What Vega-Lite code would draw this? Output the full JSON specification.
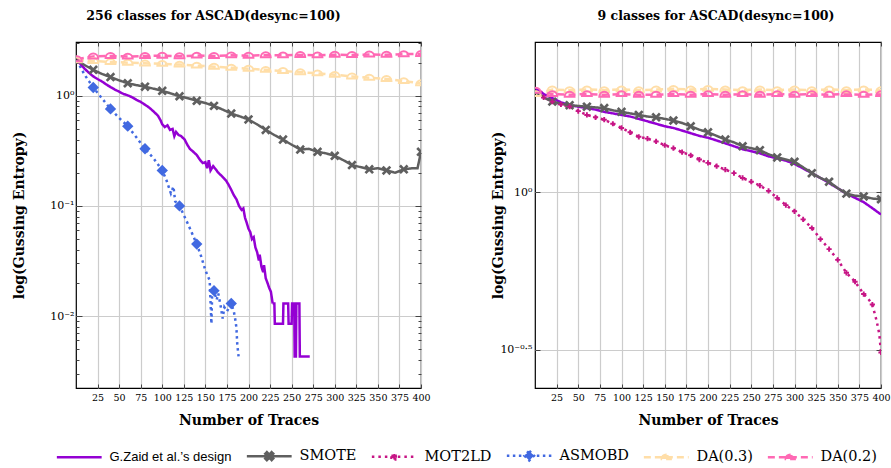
{
"$schema": "https://vega.github.io/schema/vega-lite/v6.json",
"background": "white",
"padding": {"left": 11, "top": 9, "right": 5, "bottom": 0},
"spacing": 59,
"config": {
 "view": {"stroke": "#000", "strokeWidth": 1.2},
 "axis": {"domain": false, "gridColor": "#cccccc", "gridWidth": 1.2, "tickColor": "#444", "labelFont": "DejaVu Serif", "labelFontSize": 9.5, "labelColor": "#000", "titleFont": "DejaVu Serif", "titleFontSize": 14, "titleFontWeight": "bold", "titleColor": "#000"},
 "title": {"font": "DejaVu Serif", "fontSize": 12.5, "fontWeight": "bold", "color": "#000", "offset": 19}
},
"datasets": {"d": [
{"p":"a","s":"D3","x":1,"y":2.1},{"p":"a","s":"D3","x":20,"y":2.07},{"p":"a","s":"D3","x":40,"y":2.03},{"p":"a","s":"D3","x":60,"y":2.0},{"p":"a","s":"D3","x":80,"y":1.97},{"p":"a","s":"D3","x":100,"y":1.95},{"p":"a","s":"D3","x":120,"y":1.92},{"p":"a","s":"D3","x":140,"y":1.88},{"p":"a","s":"D3","x":160,"y":1.84},{"p":"a","s":"D3","x":180,"y":1.8},{"p":"a","s":"D3","x":200,"y":1.76},{"p":"a","s":"D3","x":220,"y":1.72},{"p":"a","s":"D3","x":240,"y":1.68},{"p":"a","s":"D3","x":260,"y":1.64},{"p":"a","s":"D3","x":280,"y":1.6},{"p":"a","s":"D3","x":300,"y":1.55},{"p":"a","s":"D3","x":320,"y":1.5},{"p":"a","s":"D3","x":340,"y":1.46},{"p":"a","s":"D3","x":360,"y":1.42},{"p":"a","s":"D3","x":380,"y":1.36},{"p":"a","s":"D3","x":400,"y":1.3},
{"p":"a","s":"D2","x":1,"y":2.15},{"p":"a","s":"D2","x":20,"y":2.28},{"p":"a","s":"D2","x":40,"y":2.3},{"p":"a","s":"D2","x":60,"y":2.27},{"p":"a","s":"D2","x":80,"y":2.3},{"p":"a","s":"D2","x":100,"y":2.31},{"p":"a","s":"D2","x":120,"y":2.29},{"p":"a","s":"D2","x":140,"y":2.32},{"p":"a","s":"D2","x":160,"y":2.3},{"p":"a","s":"D2","x":180,"y":2.33},{"p":"a","s":"D2","x":200,"y":2.31},{"p":"a","s":"D2","x":220,"y":2.34},{"p":"a","s":"D2","x":240,"y":2.33},{"p":"a","s":"D2","x":260,"y":2.35},{"p":"a","s":"D2","x":280,"y":2.33},{"p":"a","s":"D2","x":300,"y":2.36},{"p":"a","s":"D2","x":320,"y":2.35},{"p":"a","s":"D2","x":340,"y":2.37},{"p":"a","s":"D2","x":360,"y":2.36},{"p":"a","s":"D2","x":380,"y":2.39},{"p":"a","s":"D2","x":400,"y":2.4},
{"p":"a","s":"A","x":1,"y":2.1},{"p":"a","s":"A","x":10,"y":1.55},{"p":"a","s":"A","x":20,"y":1.19},{"p":"a","s":"A","x":30,"y":0.95},{"p":"a","s":"A","x":40,"y":0.76},{"p":"a","s":"A","x":50,"y":0.63},{"p":"a","s":"A","x":60,"y":0.53},{"p":"a","s":"A","x":70,"y":0.42},{"p":"a","s":"A","x":80,"y":0.33},{"p":"a","s":"A","x":90,"y":0.27},{"p":"a","s":"A","x":100,"y":0.21},{"p":"a","s":"A","x":105,"y":0.17},{"p":"a","s":"A","x":110,"y":0.13},{"p":"a","s":"A","x":113,"y":0.15},{"p":"a","s":"A","x":115,"y":0.11},{"p":"a","s":"A","x":120,"y":0.1},{"p":"a","s":"A","x":130,"y":0.068},{"p":"a","s":"A","x":140,"y":0.045},{"p":"a","s":"A","x":145,"y":0.035},{"p":"a","s":"A","x":150,"y":0.026},{"p":"a","s":"A","x":155,"y":0.021},{"p":"a","s":"A","x":157,"y":0.0085},{"p":"a","s":"A","x":158,"y":0.018},{"p":"a","s":"A","x":160,"y":0.017},{"p":"a","s":"A","x":163,"y":0.014},{"p":"a","s":"A","x":165,"y":0.016},{"p":"a","s":"A","x":168,"y":0.012},{"p":"a","s":"A","x":170,"y":0.0095},{"p":"a","s":"A","x":172,"y":0.012},{"p":"a","s":"A","x":175,"y":0.011},{"p":"a","s":"A","x":180,"y":0.013},{"p":"a","s":"A","x":183,"y":0.011},{"p":"a","s":"A","x":185,"y":0.009},{"p":"a","s":"A","x":186,"y":0.0078},{"p":"a","s":"A","x":187,"y":0.0055},{"p":"a","s":"A","x":188.5,"y":0.0043},
{"p":"a","s":"Z","x":1,"y":2.1},{"p":"a","s":"Z","x":5,"y":1.95},{"p":"a","s":"Z","x":10,"y":1.76},{"p":"a","s":"Z","x":15,"y":1.62},{"p":"a","s":"Z","x":20,"y":1.5},{"p":"a","s":"Z","x":25,"y":1.42},{"p":"a","s":"Z","x":30,"y":1.35},{"p":"a","s":"Z","x":35,"y":1.27},{"p":"a","s":"Z","x":40,"y":1.2},{"p":"a","s":"Z","x":45,"y":1.14},{"p":"a","s":"Z","x":50,"y":1.09},{"p":"a","s":"Z","x":55,"y":1.04},{"p":"a","s":"Z","x":60,"y":1.01},{"p":"a","s":"Z","x":65,"y":0.97},{"p":"a","s":"Z","x":70,"y":0.92},{"p":"a","s":"Z","x":75,"y":0.88},{"p":"a","s":"Z","x":80,"y":0.83},{"p":"a","s":"Z","x":85,"y":0.78},{"p":"a","s":"Z","x":90,"y":0.72},{"p":"a","s":"Z","x":95,"y":0.66},{"p":"a","s":"Z","x":98,"y":0.6},{"p":"a","s":"Z","x":100,"y":0.55},{"p":"a","s":"Z","x":103,"y":0.52},{"p":"a","s":"Z","x":106,"y":0.54},{"p":"a","s":"Z","x":109,"y":0.49},{"p":"a","s":"Z","x":112,"y":0.5},{"p":"a","s":"Z","x":114,"y":0.43},{"p":"a","s":"Z","x":116,"y":0.47},{"p":"a","s":"Z","x":119,"y":0.44},{"p":"a","s":"Z","x":122,"y":0.43},{"p":"a","s":"Z","x":126,"y":0.4},{"p":"a","s":"Z","x":129,"y":0.36},{"p":"a","s":"Z","x":132,"y":0.33},{"p":"a","s":"Z","x":136,"y":0.31},{"p":"a","s":"Z","x":140,"y":0.29},{"p":"a","s":"Z","x":144,"y":0.26},{"p":"a","s":"Z","x":147,"y":0.245},{"p":"a","s":"Z","x":150,"y":0.25},{"p":"a","s":"Z","x":152,"y":0.22},{"p":"a","s":"Z","x":154,"y":0.26},{"p":"a","s":"Z","x":156,"y":0.21},{"p":"a","s":"Z","x":159,"y":0.23},{"p":"a","s":"Z","x":162,"y":0.215},{"p":"a","s":"Z","x":165,"y":0.2},{"p":"a","s":"Z","x":168,"y":0.19},{"p":"a","s":"Z","x":171,"y":0.18},{"p":"a","s":"Z","x":174,"y":0.17},{"p":"a","s":"Z","x":177,"y":0.155},{"p":"a","s":"Z","x":180,"y":0.14},{"p":"a","s":"Z","x":183,"y":0.125},{"p":"a","s":"Z","x":186,"y":0.115},{"p":"a","s":"Z","x":189,"y":0.1},{"p":"a","s":"Z","x":192,"y":0.092},{"p":"a","s":"Z","x":194,"y":0.095},{"p":"a","s":"Z","x":196,"y":0.078},{"p":"a","s":"Z","x":198,"y":0.07},{"p":"a","s":"Z","x":200,"y":0.062},{"p":"a","s":"Z","x":202,"y":0.058},{"p":"a","s":"Z","x":204,"y":0.05},{"p":"a","s":"Z","x":206,"y":0.052},{"p":"a","s":"Z","x":208,"y":0.042},{"p":"a","s":"Z","x":210,"y":0.038},{"p":"a","s":"Z","x":212,"y":0.032},{"p":"a","s":"Z","x":213,"y":0.036},{"p":"a","s":"Z","x":215,"y":0.028},{"p":"a","s":"Z","x":217,"y":0.025},{"p":"a","s":"Z","x":218,"y":0.029},{"p":"a","s":"Z","x":220,"y":0.022},{"p":"a","s":"Z","x":222,"y":0.02},{"p":"a","s":"Z","x":224,"y":0.018},{"p":"a","s":"Z","x":226,"y":0.0166},{"p":"a","s":"Z","x":228,"y":0.013},{"p":"a","s":"Z","x":230,"y":0.013},{"p":"a","s":"Z","x":230.5,"y":0.0085},{"p":"a","s":"Z","x":240,"y":0.0085},{"p":"a","s":"Z","x":240.5,"y":0.013},{"p":"a","s":"Z","x":246,"y":0.013},{"p":"a","s":"Z","x":246.5,"y":0.0085},{"p":"a","s":"Z","x":250,"y":0.0085},{"p":"a","s":"Z","x":250.5,"y":0.013},{"p":"a","s":"Z","x":253,"y":0.013},{"p":"a","s":"Z","x":253.5,"y":0.0043},{"p":"a","s":"Z","x":255,"y":0.0043},{"p":"a","s":"Z","x":255.5,"y":0.013},{"p":"a","s":"Z","x":259,"y":0.013},{"p":"a","s":"Z","x":259.5,"y":0.0043},{"p":"a","s":"Z","x":271,"y":0.0043},
{"p":"a","s":"S","x":1,"y":2.1},{"p":"a","s":"S","x":10,"y":1.9},{"p":"a","s":"S","x":20,"y":1.72},{"p":"a","s":"S","x":30,"y":1.58},{"p":"a","s":"S","x":40,"y":1.48},{"p":"a","s":"S","x":50,"y":1.38},{"p":"a","s":"S","x":60,"y":1.3},{"p":"a","s":"S","x":70,"y":1.25},{"p":"a","s":"S","x":80,"y":1.21},{"p":"a","s":"S","x":90,"y":1.16},{"p":"a","s":"S","x":100,"y":1.11},{"p":"a","s":"S","x":110,"y":1.05},{"p":"a","s":"S","x":120,"y":0.99},{"p":"a","s":"S","x":130,"y":0.95},{"p":"a","s":"S","x":140,"y":0.9},{"p":"a","s":"S","x":150,"y":0.86},{"p":"a","s":"S","x":160,"y":0.81},{"p":"a","s":"S","x":170,"y":0.75},{"p":"a","s":"S","x":180,"y":0.69},{"p":"a","s":"S","x":190,"y":0.65},{"p":"a","s":"S","x":200,"y":0.61},{"p":"a","s":"S","x":210,"y":0.55},{"p":"a","s":"S","x":220,"y":0.49},{"p":"a","s":"S","x":230,"y":0.44},{"p":"a","s":"S","x":240,"y":0.4},{"p":"a","s":"S","x":250,"y":0.36},{"p":"a","s":"S","x":260,"y":0.325},{"p":"a","s":"S","x":270,"y":0.33},{"p":"a","s":"S","x":280,"y":0.31},{"p":"a","s":"S","x":290,"y":0.3},{"p":"a","s":"S","x":300,"y":0.285},{"p":"a","s":"S","x":310,"y":0.26},{"p":"a","s":"S","x":320,"y":0.235},{"p":"a","s":"S","x":330,"y":0.225},{"p":"a","s":"S","x":340,"y":0.215},{"p":"a","s":"S","x":350,"y":0.22},{"p":"a","s":"S","x":360,"y":0.21},{"p":"a","s":"S","x":370,"y":0.2},{"p":"a","s":"S","x":380,"y":0.215},{"p":"a","s":"S","x":390,"y":0.22},{"p":"a","s":"S","x":396,"y":0.22},{"p":"a","s":"S","x":400,"y":0.31},
{"p":"b","s":"D3","x":1,"y":2.05},{"p":"b","s":"D3","x":20,"y":2.12},{"p":"b","s":"D3","x":40,"y":2.11},{"p":"b","s":"D3","x":60,"y":2.12},{"p":"b","s":"D3","x":80,"y":2.11},{"p":"b","s":"D3","x":100,"y":2.12},{"p":"b","s":"D3","x":120,"y":2.11},{"p":"b","s":"D3","x":140,"y":2.12},{"p":"b","s":"D3","x":160,"y":2.13},{"p":"b","s":"D3","x":180,"y":2.12},{"p":"b","s":"D3","x":200,"y":2.13},{"p":"b","s":"D3","x":220,"y":2.12},{"p":"b","s":"D3","x":240,"y":2.11},{"p":"b","s":"D3","x":260,"y":2.12},{"p":"b","s":"D3","x":280,"y":2.11},{"p":"b","s":"D3","x":300,"y":2.12},{"p":"b","s":"D3","x":320,"y":2.11},{"p":"b","s":"D3","x":340,"y":2.12},{"p":"b","s":"D3","x":360,"y":2.11},{"p":"b","s":"D3","x":380,"y":2.12},{"p":"b","s":"D3","x":400,"y":2.11},
{"p":"b","s":"D2","x":1,"y":2.1},{"p":"b","s":"D2","x":20,"y":2.05},{"p":"b","s":"D2","x":40,"y":2.04},{"p":"b","s":"D2","x":60,"y":2.05},{"p":"b","s":"D2","x":80,"y":2.04},{"p":"b","s":"D2","x":100,"y":2.05},{"p":"b","s":"D2","x":120,"y":2.04},{"p":"b","s":"D2","x":140,"y":2.04},{"p":"b","s":"D2","x":160,"y":2.05},{"p":"b","s":"D2","x":180,"y":2.04},{"p":"b","s":"D2","x":200,"y":2.05},{"p":"b","s":"D2","x":220,"y":2.04},{"p":"b","s":"D2","x":240,"y":2.05},{"p":"b","s":"D2","x":260,"y":2.04},{"p":"b","s":"D2","x":280,"y":2.05},{"p":"b","s":"D2","x":300,"y":2.04},{"p":"b","s":"D2","x":320,"y":2.05},{"p":"b","s":"D2","x":340,"y":2.04},{"p":"b","s":"D2","x":360,"y":2.05},{"p":"b","s":"D2","x":380,"y":2.04},{"p":"b","s":"D2","x":400,"y":2.05},
{"p":"b","s":"M","x":1,"y":2.1},{"p":"b","s":"M","x":10,"y":2.0},{"p":"b","s":"M","x":20,"y":1.94},{"p":"b","s":"M","x":30,"y":1.9},{"p":"b","s":"M","x":40,"y":1.87},{"p":"b","s":"M","x":50,"y":1.81},{"p":"b","s":"M","x":60,"y":1.76},{"p":"b","s":"M","x":70,"y":1.73},{"p":"b","s":"M","x":80,"y":1.7},{"p":"b","s":"M","x":90,"y":1.65},{"p":"b","s":"M","x":100,"y":1.6},{"p":"b","s":"M","x":110,"y":1.55},{"p":"b","s":"M","x":120,"y":1.5},{"p":"b","s":"M","x":130,"y":1.48},{"p":"b","s":"M","x":140,"y":1.45},{"p":"b","s":"M","x":150,"y":1.41},{"p":"b","s":"M","x":160,"y":1.38},{"p":"b","s":"M","x":170,"y":1.34},{"p":"b","s":"M","x":180,"y":1.31},{"p":"b","s":"M","x":190,"y":1.27},{"p":"b","s":"M","x":200,"y":1.24},{"p":"b","s":"M","x":210,"y":1.21},{"p":"b","s":"M","x":220,"y":1.18},{"p":"b","s":"M","x":230,"y":1.15},{"p":"b","s":"M","x":240,"y":1.11},{"p":"b","s":"M","x":250,"y":1.08},{"p":"b","s":"M","x":260,"y":1.05},{"p":"b","s":"M","x":270,"y":1.01},{"p":"b","s":"M","x":280,"y":0.96},{"p":"b","s":"M","x":290,"y":0.91},{"p":"b","s":"M","x":300,"y":0.87},{"p":"b","s":"M","x":310,"y":0.82},{"p":"b","s":"M","x":320,"y":0.77},{"p":"b","s":"M","x":330,"y":0.71},{"p":"b","s":"M","x":340,"y":0.66},{"p":"b","s":"M","x":350,"y":0.61},{"p":"b","s":"M","x":360,"y":0.555},{"p":"b","s":"M","x":370,"y":0.52},{"p":"b","s":"M","x":380,"y":0.475},{"p":"b","s":"M","x":385,"y":0.46},{"p":"b","s":"M","x":390,"y":0.44},{"p":"b","s":"M","x":395,"y":0.39},{"p":"b","s":"M","x":398,"y":0.355},{"p":"b","s":"M","x":400,"y":0.31},
{"p":"b","s":"Z","x":1,"y":2.14},{"p":"b","s":"Z","x":10,"y":2.05},{"p":"b","s":"Z","x":20,"y":1.99},{"p":"b","s":"Z","x":30,"y":1.93},{"p":"b","s":"Z","x":40,"y":1.89},{"p":"b","s":"Z","x":50,"y":1.87},{"p":"b","s":"Z","x":60,"y":1.85},{"p":"b","s":"Z","x":70,"y":1.83},{"p":"b","s":"Z","x":80,"y":1.8},{"p":"b","s":"Z","x":90,"y":1.78},{"p":"b","s":"Z","x":100,"y":1.76},{"p":"b","s":"Z","x":110,"y":1.74},{"p":"b","s":"Z","x":120,"y":1.71},{"p":"b","s":"Z","x":130,"y":1.68},{"p":"b","s":"Z","x":140,"y":1.65},{"p":"b","s":"Z","x":150,"y":1.62},{"p":"b","s":"Z","x":160,"y":1.6},{"p":"b","s":"Z","x":170,"y":1.57},{"p":"b","s":"Z","x":180,"y":1.54},{"p":"b","s":"Z","x":190,"y":1.51},{"p":"b","s":"Z","x":200,"y":1.49},{"p":"b","s":"Z","x":210,"y":1.46},{"p":"b","s":"Z","x":220,"y":1.43},{"p":"b","s":"Z","x":230,"y":1.4},{"p":"b","s":"Z","x":240,"y":1.37},{"p":"b","s":"Z","x":250,"y":1.35},{"p":"b","s":"Z","x":260,"y":1.33},{"p":"b","s":"Z","x":270,"y":1.3},{"p":"b","s":"Z","x":280,"y":1.28},{"p":"b","s":"Z","x":290,"y":1.26},{"p":"b","s":"Z","x":300,"y":1.23},{"p":"b","s":"Z","x":310,"y":1.19},{"p":"b","s":"Z","x":320,"y":1.15},{"p":"b","s":"Z","x":330,"y":1.11},{"p":"b","s":"Z","x":340,"y":1.07},{"p":"b","s":"Z","x":350,"y":1.03},{"p":"b","s":"Z","x":360,"y":0.99},{"p":"b","s":"Z","x":370,"y":0.96},{"p":"b","s":"Z","x":380,"y":0.93},{"p":"b","s":"Z","x":390,"y":0.89},{"p":"b","s":"Z","x":400,"y":0.85},
{"p":"b","s":"S","x":1,"y":2.08},{"p":"b","s":"S","x":10,"y":2.0},{"p":"b","s":"S","x":20,"y":1.94},{"p":"b","s":"S","x":30,"y":1.91},{"p":"b","s":"S","x":40,"y":1.89},{"p":"b","s":"S","x":50,"y":1.88},{"p":"b","s":"S","x":60,"y":1.87},{"p":"b","s":"S","x":70,"y":1.86},{"p":"b","s":"S","x":80,"y":1.85},{"p":"b","s":"S","x":90,"y":1.82},{"p":"b","s":"S","x":100,"y":1.8},{"p":"b","s":"S","x":110,"y":1.78},{"p":"b","s":"S","x":120,"y":1.76},{"p":"b","s":"S","x":130,"y":1.74},{"p":"b","s":"S","x":140,"y":1.73},{"p":"b","s":"S","x":150,"y":1.71},{"p":"b","s":"S","x":160,"y":1.69},{"p":"b","s":"S","x":170,"y":1.66},{"p":"b","s":"S","x":180,"y":1.62},{"p":"b","s":"S","x":190,"y":1.58},{"p":"b","s":"S","x":200,"y":1.55},{"p":"b","s":"S","x":210,"y":1.51},{"p":"b","s":"S","x":220,"y":1.47},{"p":"b","s":"S","x":230,"y":1.44},{"p":"b","s":"S","x":240,"y":1.4},{"p":"b","s":"S","x":250,"y":1.38},{"p":"b","s":"S","x":260,"y":1.36},{"p":"b","s":"S","x":270,"y":1.32},{"p":"b","s":"S","x":280,"y":1.29},{"p":"b","s":"S","x":290,"y":1.27},{"p":"b","s":"S","x":300,"y":1.25},{"p":"b","s":"S","x":310,"y":1.2},{"p":"b","s":"S","x":320,"y":1.15},{"p":"b","s":"S","x":330,"y":1.11},{"p":"b","s":"S","x":340,"y":1.08},{"p":"b","s":"S","x":350,"y":1.03},{"p":"b","s":"S","x":360,"y":0.99},{"p":"b","s":"S","x":370,"y":0.975},{"p":"b","s":"S","x":380,"y":0.97},{"p":"b","s":"S","x":390,"y":0.955},{"p":"b","s":"S","x":400,"y":0.95}
]},
"resolve": {"scale": {"x": "independent", "y": "independent"}},
"hconcat": [
{
 "width": 345, "height": 346,
 "title": {"text": "256 classes for ASCAD(desync=100)", "dx": -35},
 "data": {"name": "d"},
 "transform": [{"filter": "datum.p == 'a'"}],
 "resolve": {"axis": {"x": "independent", "y": "independent"}},
 "layer": [
  {
   "mark": {"type": "line", "strokeWidth": 2.5, "clip": true},
   "encoding": {
    "x": {"field": "x", "type": "quantitative", "scale": {"domain": [0, 400], "nice": false, "zero": false},
      "axis": {"values": [25,50,75,100,125,150,175,200,225,250,275,300,325,350,375,400], "title": "Number of Traces", "grid": true, "tickSize": -4, "labelPadding": 8, "labelOverlap": false, "labelFlush": false, "titleY": 32, "titleBaseline": "middle"}},
    "y": {"field": "y", "type": "quantitative", "scale": {"type": "log", "domain": [0.00222, 3.08], "nice": false},
      "axis": {"values": [0.003,0.004,0.005,0.006,0.007,0.008,0.009,0.01,0.02,0.03,0.04,0.05,0.06,0.07,0.08,0.09,0.1,0.2,0.3,0.4,0.5,0.6,0.7,0.8,0.9,1,2,3],
        "labelExpr": "datum.value == 1 ? '10⁰' : datum.value == 0.1 ? '10⁻¹' : datum.value == 0.01 ? '10⁻²' : ''",
        "gridOpacity": {"condition": {"test": "datum.value == 1 || datum.value == 0.1 || datum.value == 0.01", "value": 1}, "value": 0},
        "tickSize": {"condition": {"test": "datum.value == 1 || datum.value == 0.1 || datum.value == 0.01", "value": -6}, "value": -3},
        "labelPadding": 8, "labelFontSize": 11, "title": "log(Gussing Entropy)", "titleX": -57, "titleBaseline": "middle"}},
    "color": {"field": "s", "type": "nominal",
      "scale": {"domain": ["Z","S","M","A","D3","D2"], "range": ["#9400D3","#5f5f5f","#C71585","#4169E1","#FFDEA8","#FF69B4"]},
      "legend": {"orient": "none", "legendX": -22, "legendY": 406, "direction": "horizontal", "columns": 6, "title": null,
        "symbolSize": 64, "symbolOffset": 18, "labelOffset": 23, "columnPadding": 9,
        "labelFont": "DejaVu Serif", "labelFontSize": 14.5, "labelColor": "#000",
        "labelExpr": "datum.value == 'Z' ? 'G.Zaid et al.\u2019s design' : datum.value == 'S' ? 'SMOTE' : datum.value == 'M' ? 'MOT2LD' : datum.value == 'A' ? 'ASMOBD' : datum.value == 'D3' ? 'DA(0.3)' : 'DA(0.2)'",
        "encode": {
          "symbols": {"update": {
            "shape": {"signal": "datum.value == 'Z' ? 'M-5.6,0H5.6' : datum.value == 'S' ? 'M-5.6,0H5.6M-1,-0.6L-0.6,-1L0,-0.4L0.6,-1L1,-0.6L0.4,0L1,0.6L0.6,1L0,0.4L-0.6,1L-1,0.6L-0.4,0Z' : datum.value == 'M' ? 'M-5.6,0H5.6M-0.7,-0.25H-0.25V-0.7H0.25V-0.25H0.7V0.25H0.25V0.7H-0.25V0.25H-0.7Z' : datum.value == 'A' ? 'M-5.6,0H5.6M0,-1.2L1.2,0L0,1.2L-1.2,0Z' : 'M-5.6,0H5.6M-1.1,0.45A1.1,1.1,0,0,1,1.1,0.45Z'"},
            "strokeDash": {"signal": "datum.value == 'M' ? [2.5,4] : datum.value == 'A' ? [2.5,3.5] : (datum.value == 'D3' || datum.value == 'D2') ? [7,4] : [1,0]"},
            "fill": {"signal": "datum.value == 'S' ? '#5f5f5f' : datum.value == 'M' ? '#C71585' : datum.value == 'A' ? '#4169E1' : 'transparent'"},
            "strokeWidth": {"value": 2.5},
            "opacity": {"value": 1}
          }},
          "labels": {"update": {
            "font": {"signal": "datum.value == 'Z' ? 'Liberation Sans' : 'DejaVu Serif'"},
            "fontSize": {"signal": "datum.value == 'Z' ? 13 : 14.5"}
          }}
        }
      }},
    "strokeDash": {"field": "s", "type": "nominal", "legend": null,
      "scale": {"domain": ["Z","S","M","A","D3","D2"], "range": [[1,0],[1,0],[2.5,4],[2.5,3.5],[7,4],[7,4]]}}
   }
  },
  {
   "transform": [{"filter": "datum.s == 'S' && datum.x % 20 == 0"}],
   "mark": {"type": "point", "filled": true, "size": 90, "opacity": 1, "clip": true, "shape": "M-1,-0.6L-0.6,-1L0,-0.4L0.6,-1L1,-0.6L0.4,0L1,0.6L0.6,1L0,0.4L-0.6,1L-1,0.6L-0.4,0Z"},
   "encoding": {
    "x": {"field": "x", "type": "quantitative", "axis": null},
    "y": {"field": "y", "type": "quantitative", "axis": null},
    "fill": {"field": "s", "type": "nominal", "legend": null, "scale": {"domain": ["Z","S","M","A","D3","D2"], "range": ["#9400D3","#5f5f5f","#C71585","#4169E1","#FFDEA8","#FF69B4"]}}
   }
  },
  {
   "transform": [{"filter": "datum.s == 'A' && datum.x % 20 == 0"}],
   "mark": {"type": "point", "filled": true, "size": 90, "opacity": 1, "clip": true, "shape": "M0,-1.2L1.2,0L0,1.2L-1.2,0Z"},
   "encoding": {
    "x": {"field": "x", "type": "quantitative", "axis": null},
    "y": {"field": "y", "type": "quantitative", "axis": null},
    "fill": {"field": "s", "type": "nominal", "legend": null}
   }
  },
  {
   "transform": [{"filter": "(datum.s == 'D3' || datum.s == 'D2') && (datum.x % 20 == 0 || datum.x == 1)"}],
   "mark": {"type": "point", "filled": false, "size": 80, "strokeWidth": 2, "opacity": 1, "clip": true, "shape": "M-1.1,0.45A1.1,1.1,0,0,1,1.1,0.45Z"},
   "encoding": {
    "x": {"field": "x", "type": "quantitative", "axis": null},
    "y": {"field": "y", "type": "quantitative", "axis": null},
    "stroke": {"field": "s", "type": "nominal", "legend": null, "scale": {"domain": ["Z","S","M","A","D3","D2"], "range": ["#9400D3","#5f5f5f","#C71585","#4169E1","#FFDEA8","#FF69B4"]}}
   }
  },
  {
   "mark": {"type": "point", "opacity": 0},
   "encoding": {
    "x": {"field": "x", "type": "quantitative", "axis": {"orient": "top", "values": [25,50,75,100,125,150,175,200,225,250,275,300,325,350,375,400], "labels": false, "grid": false, "title": null, "tickSize": -4, "minExtent": 0, "maxExtent": 0}},
    "y": {"field": "y", "type": "quantitative", "axis": {"orient": "right", "values": [0.003,0.004,0.005,0.006,0.007,0.008,0.009,0.01,0.02,0.03,0.04,0.05,0.06,0.07,0.08,0.09,0.1,0.2,0.3,0.4,0.5,0.6,0.7,0.8,0.9,1,2,3], "labels": false, "grid": false, "title": null, "minExtent": 0, "maxExtent": 0,
      "tickSize": {"condition": {"test": "datum.value == 1 || datum.value == 0.1 || datum.value == 0.01", "value": -6}, "value": -3}}}
   }
  }
 ]
},
{
 "width": 346, "height": 346,
 "title": {"text": "9 classes for ASCAD(desync=100)", "dx": 8},
 "data": {"name": "d"},
 "transform": [{"filter": "datum.p == 'b'"}],
 "resolve": {"axis": {"x": "independent", "y": "independent"}},
 "layer": [
  {
   "mark": {"type": "line", "strokeWidth": 2.5, "clip": true},
   "encoding": {
    "x": {"field": "x", "type": "quantitative", "scale": {"domain": [0, 400], "nice": false, "zero": false},
      "axis": {"values": [25,50,75,100,125,150,175,200,225,250,275,300,325,350,375,400], "title": "Number of Traces", "grid": true, "tickSize": -4, "labelPadding": 8, "labelOverlap": false, "labelFlush": false, "titleY": 32, "titleBaseline": "middle"}},
    "y": {"field": "y", "type": "quantitative", "scale": {"type": "log", "domain": [0.239, 3.0], "nice": false},
      "axis": {"values": [0.31622776601683794, 1],
        "labelExpr": "datum.value == 1 ? '10⁰' : '10⁻⁰·⁵'",
        "tickSize": -5, "labelPadding": 8, "labelFontSize": 11, "title": "log(Gussing Entropy)", "titleX": -37, "titleBaseline": "middle"}},
    "color": {"field": "s", "type": "nominal"},
    "strokeDash": {"field": "s", "type": "nominal", "legend": null}
   }
  },
  {
   "transform": [{"filter": "datum.s == 'S' && datum.x % 20 == 0"}],
   "mark": {"type": "point", "filled": true, "size": 90, "opacity": 1, "clip": true, "shape": "M-1,-0.6L-0.6,-1L0,-0.4L0.6,-1L1,-0.6L0.4,0L1,0.6L0.6,1L0,0.4L-0.6,1L-1,0.6L-0.4,0Z"},
   "encoding": {
    "x": {"field": "x", "type": "quantitative", "axis": null},
    "y": {"field": "y", "type": "quantitative", "axis": null},
    "fill": {"field": "s", "type": "nominal", "legend": null}
   }
  },
  {
   "transform": [{"filter": "datum.s == 'M' && datum.x % 10 == 0"}],
   "mark": {"type": "point", "filled": true, "size": 90, "opacity": 1, "clip": true, "shape": "M-0.55,-0.2H-0.2V-0.55H0.2V-0.2H0.55V0.2H0.2V0.55H-0.2V0.2H-0.55Z"},
   "encoding": {
    "x": {"field": "x", "type": "quantitative", "axis": null},
    "y": {"field": "y", "type": "quantitative", "axis": null},
    "fill": {"field": "s", "type": "nominal", "legend": null}
   }
  },
  {
   "transform": [{"filter": "(datum.s == 'D3' || datum.s == 'D2') && (datum.x % 20 == 0 || datum.x == 1)"}],
   "mark": {"type": "point", "filled": false, "size": 80, "strokeWidth": 2, "opacity": 1, "clip": true, "shape": "M-1.1,0.45A1.1,1.1,0,0,1,1.1,0.45Z"},
   "encoding": {
    "x": {"field": "x", "type": "quantitative", "axis": null},
    "y": {"field": "y", "type": "quantitative", "axis": null},
    "stroke": {"field": "s", "type": "nominal", "legend": null}
   }
  },
  {
   "mark": {"type": "point", "opacity": 0},
   "encoding": {
    "x": {"field": "x", "type": "quantitative", "axis": {"orient": "top", "values": [25,50,75,100,125,150,175,200,225,250,275,300,325,350,375,400], "labels": false, "grid": false, "title": null, "tickSize": -4, "minExtent": 0, "maxExtent": 0}},
    "y": {"field": "y", "type": "quantitative", "axis": {"orient": "right", "values": [0.31622776601683794, 1], "labels": false, "grid": false, "title": null, "tickSize": -5, "minExtent": 0, "maxExtent": 0}}
   }
  }
 ]
}
]
}
